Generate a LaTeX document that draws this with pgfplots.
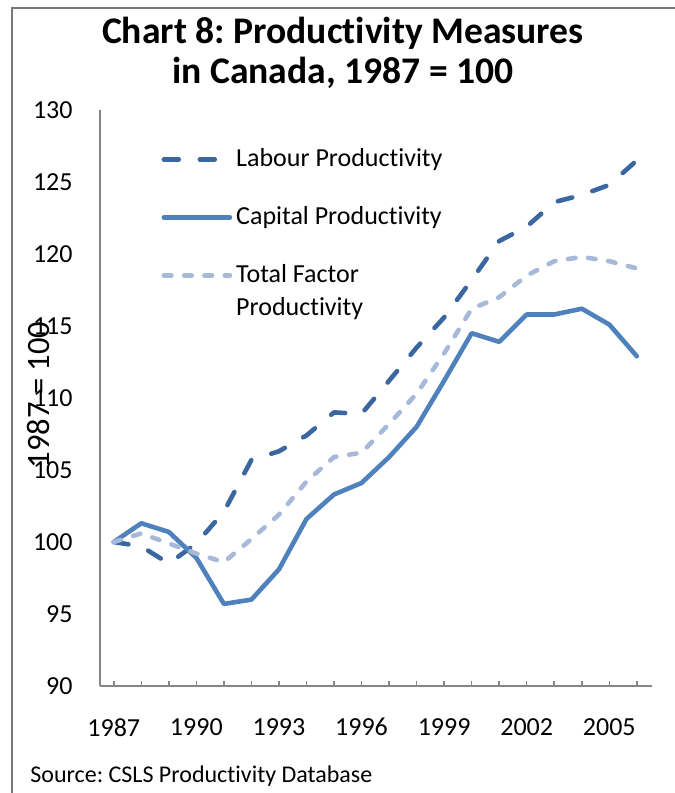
\documentclass[border=0pt]{standalone}
\usepackage{fontspec}
\setmainfont{Carlito}[Ligatures=CommonOff]
\usepackage{pgfplots}
\usepackage{pgfplotstable}
\pgfplotsset{compat=1.18}
\frenchspacing

\definecolor{labour}{RGB}{58,103,160}
\definecolor{capital}{RGB}{79,129,189}
\definecolor{tfp}{RGB}{167,185,216}
\definecolor{axisgray}{RGB}{134,134,134}
\definecolor{framegray}{RGB}{120,120,120}

% index values, 1987 = 100
\pgfplotstableread{
year  lab    cap    tfp
1987  100.0  100.0  100.0
1988  99.7   101.3  100.6
1989  98.5   100.7  99.9
1990  99.9   98.9   99.2
1991  102.1  95.7   98.6
1992  105.7  96.0   100.2
1993  106.3  98.1   101.9
1994  107.4  101.6  104.2
1995  109.0  103.3  105.9
1996  108.9  104.1  106.2
1997  111.2  105.9  108.2
1998  113.5  108.0  110.3
1999  115.6  111.2  113.1
2000  118.2  114.5  116.2
2001  120.9  113.9  117.0
2002  121.9  115.8  118.5
2003  123.6  115.8  119.5
2004  124.1  116.2  119.8
2005  124.8  115.1  119.5
2006  126.5  112.9  119.0
}\prodtable

\begin{document}
\begin{tikzpicture}
\begin{axis}[
  width=276pt, height=288pt, scale only axis,
  xmin=1986.5, xmax=2006.55, ymin=90, ymax=130,
  axis x line*=bottom, axis y line*=left,
  axis line style={draw=axisgray, line width=0.75pt},
  xtick={1987,...,2006},
  xticklabels={1987,,,1990,,,1993,,,1996,,,1999,,,2002,,,2005,},
  ytick={90,95,...,130},
  tick align=inside,
  major tick length=2.5pt,
  xtick style={draw=axisgray, line width=0.75pt},
  ytick style={draw=none},
  /pgf/number format/assume math mode=true,
  tick label style={font=\fontsize{13}{15}\selectfont},
  yticklabel style={inner sep=0pt, xshift=-13.5pt},
  xticklabel style={inner sep=0pt, yshift=-16pt},
  ylabel={1987 = 100},
  every axis y label/.style={at={(axis description cs:-0.1123,0.505)}, rotate=90, anchor=center, font=\fontsize{16.3}{18}\selectfont},
  title={Chart 8: Productivity Measures\\in Canada, 1987 = 100},
  title style={at={(axis description cs:0.44,1.078)}, anchor=center, align=center, font=\bfseries\fontsize{18.8}{20}\selectfont},
  legend style={draw=none, fill=none, at={(axis description cs:0.1,0.948)}, anchor=north west,
    cells={anchor=base west}, row sep=14.5pt, font=\fontsize{13}{16.5}\selectfont},
  legend image code/.code={\draw[#1] (0pt,3.5pt) -- (33pt,3.5pt);},
  clip=false,
]
\addplot[labour, line width=2.3pt, line cap=round, line join=round, dash pattern=on 7.4pt off 10.6pt]
  table[x=year, y=lab] {\prodtable};
\addlegendentry{Labour Productivity}
\addplot[capital, line width=2.3pt, line cap=round, line join=round]
  table[x=year, y=cap] {\prodtable};
\addlegendentry{Capital Productivity}
\addplot[tfp, line width=2.3pt, line cap=round, line join=round, dash pattern=on 3.75pt off 6.4pt]
  table[x=year, y=tfp] {\prodtable};
\addlegendentry{\vtop{\hbox{Total Factor}\hbox{Productivity}}}

\node[anchor=west, inner sep=0pt, font=\fontsize{12}{14}\selectfont] at (axis description cs:-0.1268,-0.1563) {Source: CSLS Productivity Database};
\end{axis}
% chart area frame (left and top edges), then fix the page to the chart area
\path (current axis.south west) ++(-50pt,-53.5pt) coordinate (bbl);
\path (current axis.south west) ++(287.5pt,343pt) coordinate (btr);
\draw[framegray, line width=1.3pt] (current axis.south west) ++(-44pt,-53.5pt) -- ++(0pt,392.5pt) -- ++(381.5pt,0pt);
\pgfresetboundingbox
\useasboundingbox (bbl) rectangle (btr);
\end{tikzpicture}
\end{document}
